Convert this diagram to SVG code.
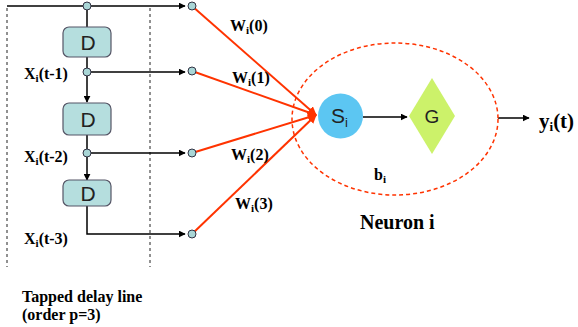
<svg xmlns="http://www.w3.org/2000/svg" width="578" height="327" viewBox="0 0 578 327">
<style>
.lbl{font-family:"Liberation Serif",serif;font-weight:bold;font-size:16px;fill:#000}
.sub{font-size:11px}
.box{fill:#B5DEDE;stroke:#556;stroke-width:1.2}
.dtxt{font-family:"Liberation Sans",Arial,sans-serif;font-size:21px;fill:#222}
.tap{fill:#A9D6D6;stroke:#334;stroke-width:1}
.blk{stroke:#000;stroke-width:1.5;fill:none}
.red{stroke:#FF3300;stroke-width:2;fill:none}
.dash{stroke:#222;stroke-width:1;stroke-dasharray:3,3;fill:none}
</style>
<defs>
<marker id="ab" viewBox="0 0 10 10" refX="9" refY="5" markerWidth="7" markerHeight="7" orient="auto" markerUnits="userSpaceOnUse"><path d="M0,0L10,5L0,10z" fill="#000"/></marker>
<marker id="ar" viewBox="0 0 10 10" refX="9" refY="5" markerWidth="9" markerHeight="9" orient="auto" markerUnits="userSpaceOnUse"><path d="M0,0L10,5L0,10z" fill="#FF3300"/></marker>
</defs>
<g id="frame">
<line class="dash" x1="7" y1="8" x2="7" y2="267"/>
<line class="dash" x1="150" y1="8" x2="150" y2="267"/>
</g>
<g id="connectors">
<path class="blk" d="M7,6 H185" marker-end="url(#ab)"/>
<path class="blk" d="M87,6 V27"/>
<path class="blk" d="M87,57 V102" marker-end="url(#ab)"/>
<path class="blk" d="M87,72 H185" marker-end="url(#ab)"/>
<path class="blk" d="M87,135 V180" marker-end="url(#ab)"/>
<path class="blk" d="M87,153 H185" marker-end="url(#ab)"/>
<path class="blk" d="M87,206 V234 H185" marker-end="url(#ab)"/>
<path class="red" d="M192,6 L316,115" marker-end="url(#ar)"/>
<path class="red" d="M192,71 L316,115" marker-end="url(#ar)"/>
<path class="red" d="M192,153 L316,115" marker-end="url(#ar)"/>
<path class="red" d="M192,234 L316,115" marker-end="url(#ar)"/>
<path class="blk" d="M363,117 H407" stroke-width="1.2" marker-end="url(#ab)"/>
<path class="blk" d="M498,118 H529" marker-end="url(#ab)"/>
</g>
<g id="taps">
<circle class="tap" cx="87" cy="6" r="4"/>
<circle class="tap" cx="87" cy="72" r="4"/>
<circle class="tap" cx="87" cy="153" r="4"/>
<circle class="tap" cx="192" cy="6" r="4"/>
<circle class="tap" cx="192" cy="71" r="4"/>
<circle class="tap" cx="192" cy="153" r="4"/>
<circle class="tap" cx="192" cy="234" r="4"/>
</g>
<g id="D1"><rect class="box" x="63" y="27" width="48" height="30" rx="6"/><text class="dtxt" x="88" y="50" text-anchor="middle">D</text></g>
<g id="D2"><rect class="box" x="63" y="103" width="48" height="32" rx="6"/><text class="dtxt" x="88" y="127" text-anchor="middle">D</text></g>
<g id="D3"><rect class="box" x="63" y="180" width="48" height="26" rx="6"/><text class="dtxt" x="88" y="201" text-anchor="middle">D</text></g>
<g id="tap-labels">
<text class="lbl" x="24" y="79">X<tspan class="sub" dy="3">i</tspan><tspan dy="-3">(t-1)</tspan></text>
<text class="lbl" x="24" y="162">X<tspan class="sub" dy="3">i</tspan><tspan dy="-3">(t-2)</tspan></text>
<text class="lbl" x="24" y="244">X<tspan class="sub" dy="3">i</tspan><tspan dy="-3">(t-3)</tspan></text>
<text class="lbl" x="22" y="302">Tapped delay line</text>
<text class="lbl" x="22" y="320">(order p=3)</text>
</g>
<g id="weights">
<text class="lbl" x="230" y="31">W<tspan class="sub" dy="3">i</tspan><tspan dy="-3">(0)</tspan></text>
<text class="lbl" x="232" y="83">W<tspan class="sub" dy="3">i</tspan><tspan dy="-3">(1)</tspan></text>
<text class="lbl" x="231" y="160">W<tspan class="sub" dy="3">i</tspan><tspan dy="-3">(2)</tspan></text>
<text class="lbl" x="235" y="209">W<tspan class="sub" dy="3">i</tspan><tspan dy="-3">(3)</tspan></text>
</g>
<g id="neuron">
<ellipse cx="395" cy="119" rx="103" ry="76" fill="none" stroke="#FF3300" stroke-width="1.5" stroke-dasharray="4,3"/>
<text class="lbl" x="360" y="229" style="font-size:20px">Neuron i</text>
<text class="lbl" x="374" y="180">b<tspan class="sub" dy="3">i</tspan></text>
</g>
<g id="S"><circle cx="340.5" cy="116" r="22.5" fill="#5CC6F2"/><text class="dtxt" x="331" y="123">S<tspan style="font-size:13px" dy="4">i</tspan></text></g>
<g id="G"><polygon points="432,78 455,116 432,154 409,116" fill="#CCF26A"/><text class="dtxt" x="432" y="123" text-anchor="middle" style="font-size:19px">G</text></g>
<g id="out"><text class="lbl" x="539" y="128" style="font-size:21px">y<tspan style="font-size:13px" dy="3">i</tspan><tspan dy="-3">(t)</tspan></text></g>
</svg>
